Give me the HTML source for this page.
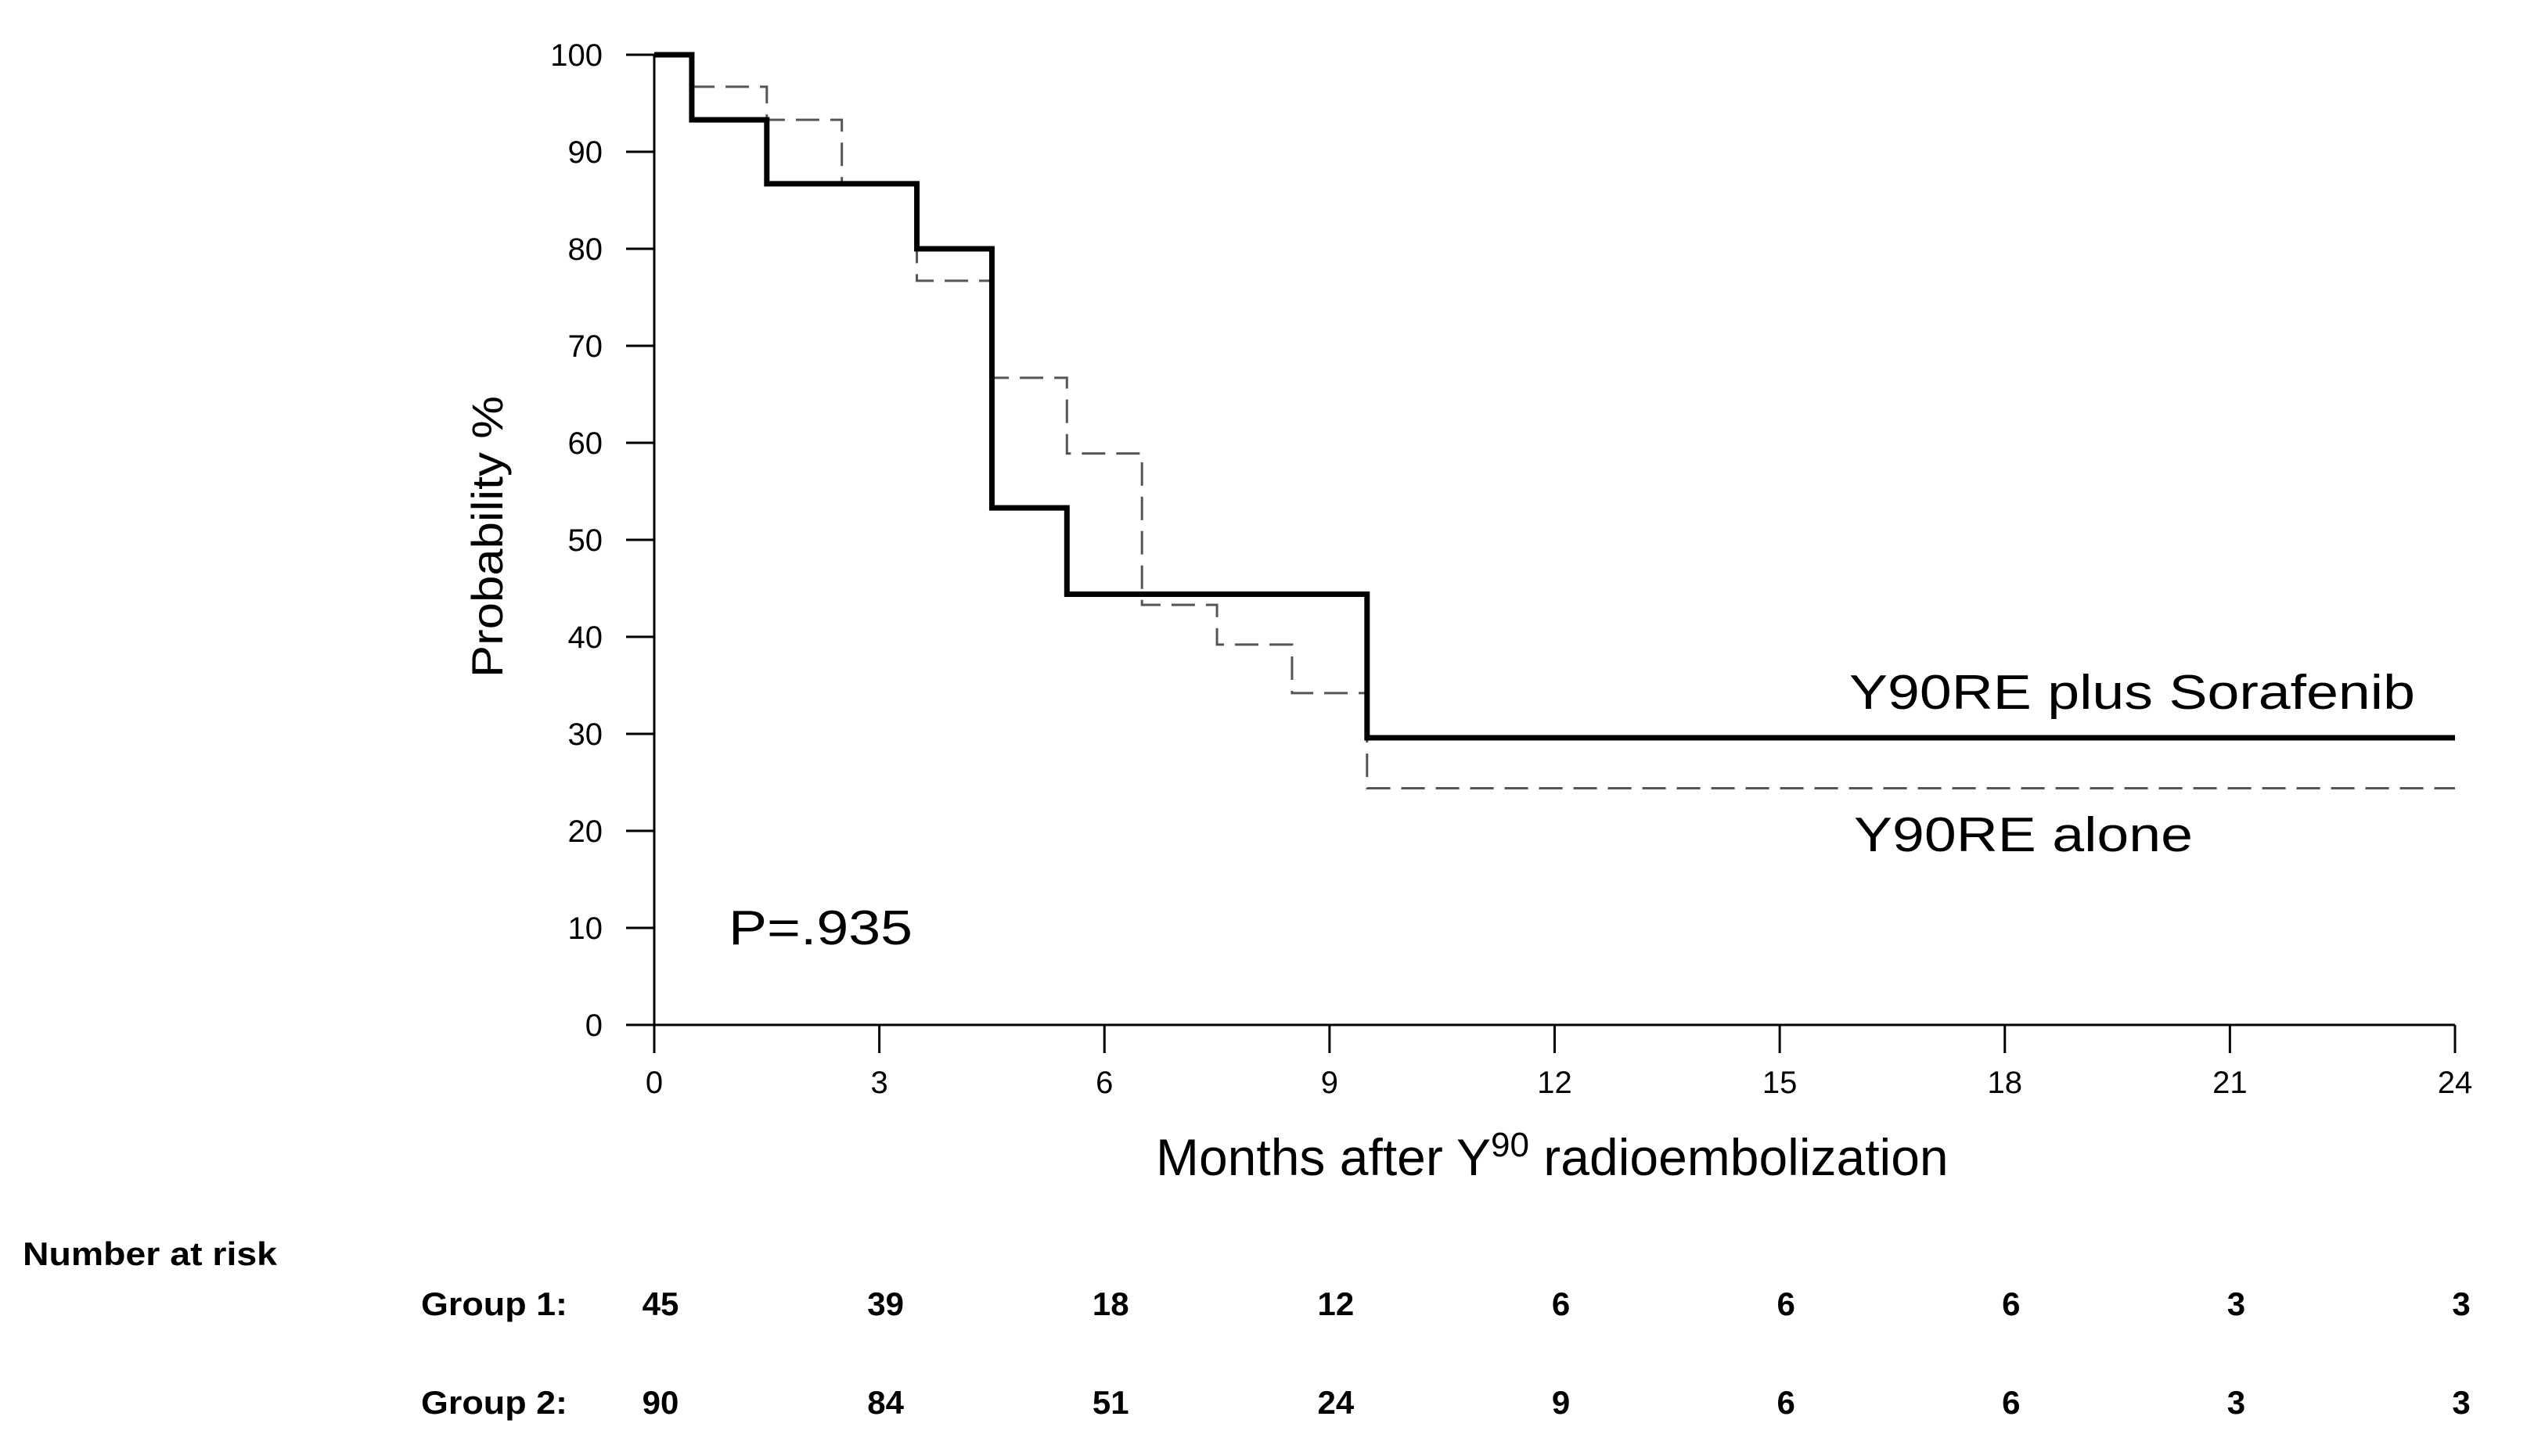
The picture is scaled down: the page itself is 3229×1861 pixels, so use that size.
<!DOCTYPE html>
<html><head><meta charset="utf-8"><style>
html,body{margin:0;padding:0;background:#fff;}
svg{display:block;font-family:"Liberation Sans",Arial,sans-serif;}
</style></head><body>
<svg id="chart" width="3229" height="1861" viewBox="0 0 3229 1861" xmlns="http://www.w3.org/2000/svg">
<rect width="3229" height="1861" fill="#fff"/>
<g id="axes"></g>
<g id="series"></g>
<text transform="translate(642,686) rotate(-90)" text-anchor="middle" font-size="56" textLength="360" lengthAdjust="spacingAndGlyphs">Probability %</text>
<text x="1477" y="1502" font-size="66">Months after Y<tspan font-size="44" dy="-24">90</tspan><tspan dy="24"> radioembolization</tspan></text>
<text x="931" y="1207" font-size="62" textLength="235" lengthAdjust="spacingAndGlyphs">P=.935</text>
<text x="2363" y="906" font-size="62" textLength="723" lengthAdjust="spacingAndGlyphs">Y90RE plus Sorafenib</text>
<text x="2369" y="1088" font-size="62" textLength="433" lengthAdjust="spacingAndGlyphs">Y90RE alone</text>
<text x="29" y="1617" font-size="42" font-weight="bold" textLength="325" lengthAdjust="spacingAndGlyphs">Number at risk</text>
<text x="538" y="1681" font-size="42" font-weight="bold" textLength="187" lengthAdjust="spacingAndGlyphs">Group 1:</text>
<text x="538" y="1807" font-size="42" font-weight="bold" textLength="187" lengthAdjust="spacingAndGlyphs">Group 2:</text>
<g id="risk"></g>
</svg>
<script>
const xTicks = [0,3,6,9,12,15,18,21,24];
const yTicks = [0,10,20,30,40,50,60,70,80,90,100];
const solidTimes = [0,0.5,1.5,3.5,4.5,5.5,9.5];
const solidSurv = [100,93.3,86.7,80,53.3,44.4,29.6];
const dashTimes = [0,0.5,1.5,2.5,3.5,4.5,5.5,6.5,7.5,8.5,9.5];
const dashSurv = [100,96.7,93.3,86.7,76.7,66.7,58.9,43.3,39.2,34.2,24.4];
const riskTimes = [0,3,6,9,12,15,18,21,24];
const riskGroup1 = [45,39,18,12,6,6,6,3,3];
const riskGroup2 = [90,84,51,24,9,6,6,3,3];

const NS = "http://www.w3.org/2000/svg";
const X0=836, X1=3137, Y0=1310, Y1=70;
const xs = t => X0 + (t/24)*(X1-X0);
const ys = v => Y0 - (v/100)*(Y0-Y1);
function mk(tag, attrs, parent){const e=document.createElementNS(NS,tag);for(const k in attrs)e.setAttribute(k,attrs[k]);parent.appendChild(e);return e;}
const axes=document.getElementById('axes');
let el=mk('line',{x1:X0,y1:Y0,x2:X0,y2:Y1,stroke:'#000','stroke-width':3},axes);


el=mk('line',{x1:X0-36,y1:Y0,x2:X1,y2:Y0,stroke:'#000','stroke-width':3},axes);


yTicks.forEach(v=>{
  const t=mk('line',{x1:X0-36,y1:ys(v),x2:X0,y2:ys(v),stroke:'#000','stroke-width':3},axes);
  
  
  const l=mk('text',{x:770,y:ys(v)+14,'text-anchor':'end','font-size':40},axes);
  l.textContent=v;
  
  
});
xTicks.forEach(v=>{
  const t=mk('line',{x1:xs(v),y1:Y0,x2:xs(v),y2:Y0+36,stroke:'#000','stroke-width':3},axes);
  
  
  const l=mk('text',{x:xs(v),y:1397,'text-anchor':'middle','font-size':40},axes);
  l.textContent=v;
  
  
});
function stepPath(times,surv,end){
  let d='M'+xs(times[0])+','+ys(surv[0]);
  for(let i=1;i<times.length;i++){d+=' H'+xs(times[i])+' V'+ys(surv[i]);}
  d+=' H'+xs(end);
  return d;
}
const ser=document.getElementById('series');
el=mk('path',{d:stepPath(dashTimes,dashSurv,24),fill:'none',stroke:'#555','stroke-width':3,'stroke-dasharray':'30 14'},ser);


el=mk('path',{d:stepPath(solidTimes,solidSurv,24),fill:'none',stroke:'#000','stroke-width':7},ser);


const risk=document.getElementById('risk');
riskTimes.forEach((t,i)=>{
  const a=mk('text',{x:xs(t)+8,y:1681,'text-anchor':'middle','font-size':42,'font-weight':'bold'},risk);
  a.textContent=riskGroup1[i];
  
  
  const b=mk('text',{x:xs(t)+8,y:1807,'text-anchor':'middle','font-size':42,'font-weight':'bold'},risk);
  b.textContent=riskGroup2[i];
  
  
});
</script>
</body></html>
